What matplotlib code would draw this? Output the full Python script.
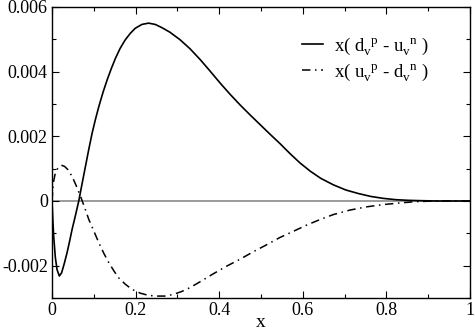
import numpy as np
import matplotlib
matplotlib.use('Agg')
import matplotlib.pyplot as plt
from matplotlib.ticker import MultipleLocator

plt.rcParams['font.family'] = 'Liberation Serif'
plt.rcParams['mathtext.fontset'] = 'custom'
plt.rcParams['mathtext.rm'] = 'Liberation Serif'
plt.rcParams['mathtext.it'] = 'Liberation Serif'

# x(d_v^p - u_v^n), values in units of 1e-3
x_solid = [0, 0.002, 0.004, 0.008, 0.012, 0.0175, 0.023, 0.029, 0.036, 0.042,
           0.048, 0.056, 0.064, 0.072, 0.080, 0.088, 0.096, 0.104, 0.112, 0.122,
           0.132, 0.142, 0.152, 0.163, 0.175, 0.187, 0.199, 0.215, 0.231, 0.247,
           0.263, 0.282, 0.306, 0.330, 0.354, 0.378, 0.402, 0.426, 0.450, 0.474,
           0.498, 0.522, 0.545, 0.569, 0.593, 0.618, 0.643, 0.673, 0.703, 0.733,
           0.763, 0.793, 0.823, 0.853, 0.883, 0.92, 1.0]
y_solid = [0, -0.6, -1.09, -1.75, -2.12, -2.32, -2.22, -1.95, -1.6, -1.25,
           -0.88, -0.45, 0.0, 0.54, 1.07, 1.6, 2.10, 2.53, 2.92, 3.36,
           3.75, 4.10, 4.42, 4.72, 4.98, 5.18, 5.34, 5.46, 5.50, 5.46,
           5.36, 5.22, 4.99, 4.71, 4.38, 4.02, 3.65, 3.30, 2.97, 2.66,
           2.36, 2.06, 1.78, 1.47, 1.18, 0.92, 0.70, 0.5, 0.34, 0.23,
           0.14, 0.08, 0.04, 0.02, 0.01, 0.0, 0.0]

# x(u_v^p - d_v^n)
x_dash = [0, 0.003, 0.008, 0.014, 0.019, 0.024, 0.030, 0.038, 0.048, 0.058,
          0.068, 0.078, 0.088, 0.100, 0.112, 0.124, 0.136, 0.148, 0.159, 0.175,
          0.191, 0.211, 0.231, 0.250, 0.270, 0.290, 0.310, 0.330, 0.354, 0.386,
          0.420, 0.450, 0.480, 0.514, 0.545, 0.577, 0.610, 0.640, 0.673, 0.713,
          0.753, 0.793, 0.833, 0.870, 0.920, 1.0]
y_dash = [0, 0.55, 0.87, 1.02, 1.08, 1.10, 1.07, 0.97, 0.76, 0.47,
          0.15, -0.2, -0.57, -0.93, -1.29, -1.62, -1.91, -2.16, -2.37, -2.57,
          -2.73, -2.85, -2.92, -2.94, -2.94, -2.89, -2.80, -2.68, -2.50, -2.25,
          -2.0, -1.8, -1.58, -1.35, -1.13, -0.94, -0.74, -0.58, -0.42, -0.28,
          -0.18, -0.11, -0.06, -0.02, 0.0, 0.0]

fig = plt.figure(figsize=(4.75, 3.32), dpi=100)
ax = fig.add_axes([0.1095, 0.1024, 0.88, 0.8766])

ax.axhline(0, color='#808080', lw=1.1, zorder=1)
ax.plot(x_solid, np.array(y_solid) * 1e-3, color='black', lw=1.2,
        label=r'x( d$_\mathrm{v}^{\ \ \mathrm{p}}$ - u$_\mathrm{v}^{\ \ \mathrm{n}}$ )')
ax.plot(x_dash, np.array(y_dash) * 1e-3, color='black', lw=1.1,
        linestyle=(0, (5.5, 3, 1, 3)),
        label=r'x( u$_\mathrm{v}^{\ \ \mathrm{p}}$ - d$_\mathrm{v}^{\ \ \mathrm{n}}$ )')

ax.set_xlim(0, 1)
ax.set_ylim(-0.003, 0.006)
ax.xaxis.set_major_locator(MultipleLocator(0.2))
ax.xaxis.set_minor_locator(MultipleLocator(0.1))
ax.yaxis.set_major_locator(MultipleLocator(0.002))
ax.yaxis.set_minor_locator(MultipleLocator(0.001))
ax.set_xticks([0, 0.2, 0.4, 0.6, 0.8, 1.0])
ax.set_xticklabels(['0', '0.2', '0.4', '0.6', '0.8', '1'])
ax.set_yticks([-0.002, 0, 0.002, 0.004, 0.006])
ax.set_yticklabels(['-0.002', '0', '0.002', '0.004', '0.006'])
ax.tick_params(which='both', direction='in', top=True, right=True,
               labelsize=13, width=0.8)
ax.tick_params(which='major', length=5, pad=3)
ax.tick_params(which='minor', length=3)
for s in ax.spines.values():
    s.set_linewidth(1.0)

ax.set_xlabel('x', fontsize=14, va='center')
ax.xaxis.set_label_coords(0.5, -0.085)

ax.legend(loc='upper left', bbox_to_anchor=(0.58, 0.93), frameon=False,
          fontsize=13.5, handlelength=1.1, handletextpad=0.6, labelspacing=0.2,
          borderaxespad=0)

fig.savefig('out.png', dpi=100)
